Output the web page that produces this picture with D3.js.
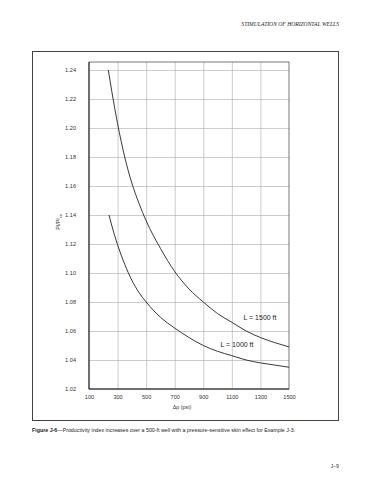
<!DOCTYPE html>
<html>
<head>
<meta charset="utf-8">
<script src="https://cdn.jsdelivr.net/npm/d3@7"></script>
<style>
  body { margin: 0; background: #fff; }
  svg { display: block; font-family: "Liberation Sans", Arial, sans-serif; }
  .grid line { stroke: #aaa; stroke-width: 0.6; }
  .grid path { display: none; }
  .lbl text { font-size: 5.6px; fill: #333; }
  .lbl path, .lbl line { display: none; }
</style>
</head>
<body>
<div id="chart"></div>
<script>
"use strict";

// values
const xTicks = [100, 300, 500, 700, 900, 1100, 1300, 1500];
const yTicks = [1.02, 1.04, 1.06, 1.08, 1.10, 1.12, 1.14, 1.16, 1.18, 1.20, 1.22, 1.24];

const dp1500 = [235, 260, 300, 350, 400, 450, 500, 600, 700, 800, 900, 1000, 1100, 1200, 1300, 1400, 1500];
const pi1500 = [1.240, 1.225, 1.203, 1.180, 1.162, 1.148, 1.136, 1.117, 1.101, 1.089, 1.080, 1.072, 1.066, 1.060, 1.0555, 1.052, 1.049];

const dp1000 = [240, 270, 300, 350, 400, 450, 500, 600, 700, 800, 900, 1000, 1100, 1200, 1300, 1400, 1500];
const pi1000 = [1.140, 1.129, 1.1195, 1.106, 1.095, 1.0865, 1.080, 1.0695, 1.062, 1.0555, 1.050, 1.046, 1.043, 1.040, 1.038, 1.0365, 1.035];

const curveNames = ["L = 1500 ft", "L = 1000 ft"];

const width = 370;
const height = 480;
const plotL = 89, plotR = 289, plotT = 62, plotB = 389;

const svg = d3.select("#chart")
  .append("svg")
  .attr("width", width)
  .attr("height", height);

const xScale = d3.scaleLinear().domain([100, 1500]).range([plotL, plotR]);
const yScale = d3.scaleLinear().domain([1.02, 1.2455]).range([plotB, plotT]);

// running header
svg.append("text")
  .attr("x", 339)
  .attr("y", 26)
  .attr("text-anchor", "end")
  .style("font-family", "'Liberation Serif', serif")
  .style("font-style", "italic")
  .style("font-size", "5.6px")
  .style("fill", "#222")
  .text("STIMULATION OF HORIZONTAL WELLS");

// outer frame
svg.append("rect")
  .attr("x", 32.5)
  .attr("y", 51.5)
  .attr("width", 306)
  .attr("height", 369)
  .attr("fill", "none")
  .attr("stroke", "#444")
  .attr("stroke-width", 1);

// grid
svg.append("g")
  .attr("class", "grid")
  .attr("transform", `translate(0, ${plotB})`)
  .call(d3.axisBottom(xScale).tickValues(xTicks.slice(1, -1)).tickSize(-(plotB - plotT)).tickFormat(""));

svg.append("g")
  .attr("class", "grid")
  .attr("transform", `translate(${plotL}, 0)`)
  .call(d3.axisLeft(yScale).tickValues(yTicks.slice(1)).tickSize(-(plotR - plotL)).tickFormat(""));

// plot box
svg.append("rect")
  .attr("x", plotL)
  .attr("y", plotT)
  .attr("width", plotR - plotL)
  .attr("height", plotB - plotT)
  .attr("fill", "none")
  .attr("stroke", "#555")
  .attr("stroke-width", 0.8);

svg.append("line")
  .attr("x1", plotL).attr("x2", plotL)
  .attr("y1", plotT).attr("y2", plotB)
  .attr("stroke", "#222").attr("stroke-width", 1);
svg.append("line")
  .attr("x1", plotL).attr("x2", plotR)
  .attr("y1", plotB).attr("y2", plotB)
  .attr("stroke", "#222").attr("stroke-width", 1);

// tick labels
svg.append("g")
  .attr("class", "lbl")
  .attr("transform", `translate(0, ${plotB})`)
  .call(d3.axisBottom(xScale).tickValues(xTicks).tickSize(0).tickPadding(6).tickFormat(d3.format("d")));

svg.append("g")
  .attr("class", "lbl")
  .attr("transform", `translate(${plotL}, 0)`)
  .call(d3.axisLeft(yScale).tickValues(yTicks).tickSize(0).tickPadding(13).tickFormat(d3.format(".2f")));

// axis titles
svg.append("text")
  .attr("x", 182)
  .attr("y", 409)
  .attr("text-anchor", "middle")
  .style("font-size", "5.4px")
  .style("fill", "#333")
  .text("\u0394p (psi)");

const yTitle = svg.append("text")
  .attr("transform", "translate(60, 222) rotate(-90)")
  .attr("text-anchor", "middle")
  .style("font-size", "5.4px")
  .style("fill", "#333");
yTitle.append("tspan").text("PI/PI");
yTitle.append("tspan").attr("dy", 1.5).style("font-size", "3.8px").text("so");

// curves
const line = d3.line()
  .x(d => xScale(d[0]))
  .y(d => yScale(d[1]))
  .curve(d3.curveMonotoneX);

const series = [d3.zip(dp1500, pi1500), d3.zip(dp1000, pi1000)];

svg.selectAll("path.curve")
  .data(series)
  .enter()
  .append("path")
  .attr("class", "curve")
  .attr("d", line)
  .attr("fill", "none")
  .attr("stroke", "#222")
  .attr("stroke-width", 0.9);

// curve labels
svg.selectAll("text.curveLbl")
  .data(curveNames)
  .enter()
  .append("text")
  .attr("class", "curveLbl")
  .attr("x", (d, i) => [260, 237][i])
  .attr("y", (d, i) => [320, 346.5][i])
  .attr("text-anchor", "middle")
  .style("font-size", "7px")
  .style("fill", "#222")
  .text(d => d);

// caption
const cap = svg.append("text")
  .attr("x", 32)
  .attr("y", 432)
  .style("font-size", "5.3px")
  .style("fill", "#222");
cap.append("tspan").style("font-weight", "bold").text("Figure J-6");
cap.append("tspan").text("\u2014Productivity index increases over a 500-ft well with a pressure-sensitive skin effect for Example J-3.");

svg.append("text")
  .attr("x", 339)
  .attr("y", 468)
  .attr("text-anchor", "end")
  .style("font-size", "5.3px")
  .style("fill", "#333")
  .text("J\u20139");
</script>
</body>
</html>
